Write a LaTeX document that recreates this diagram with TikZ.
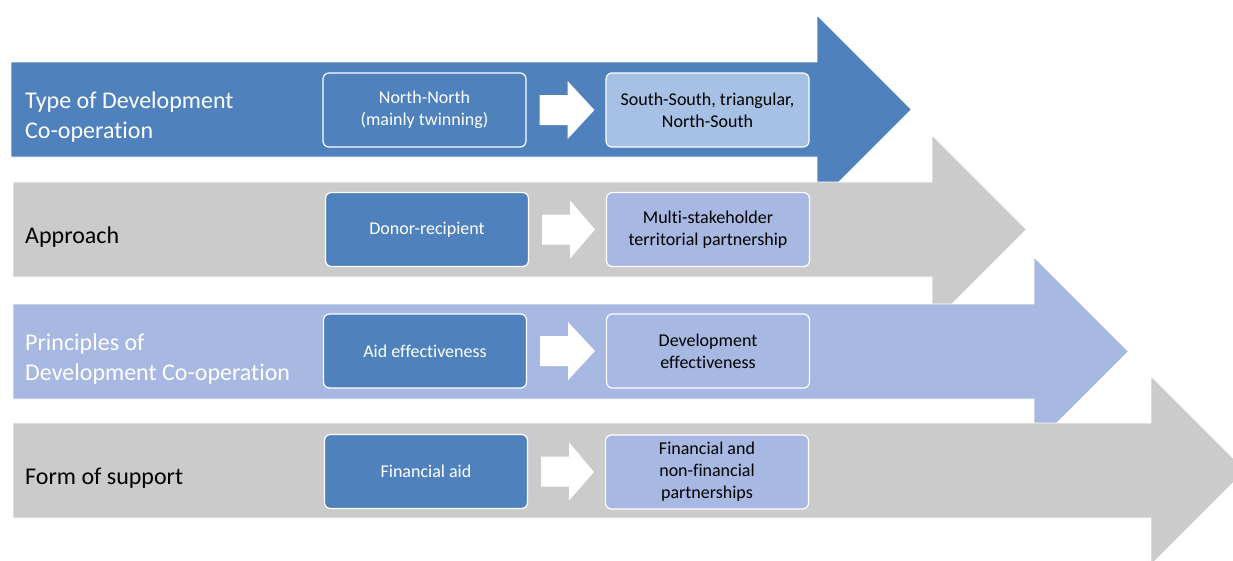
\documentclass[tikz,border=0pt]{standalone}
\usepackage{fontspec}
\setmainfont{Carlito}[Ligatures=NoCommon]
\usetikzlibrary{calc}
\definecolor{accent}{HTML}{4F81BD}
\definecolor{bandgray}{HTML}{CBCBCB}
\definecolor{lavender}{HTML}{A7B8E2}
\definecolor{skyblue}{HTML}{A6C1E3}
\tikzset{
  band/.style={draw=white, line width=0.8pt, line join=miter},
  rowlabel/.style={anchor=west, align=left, inner sep=0pt,
    font=\fontsize{24}{29.3}\selectfont},
  fromstage/.style={rounded corners=6pt, draw=white, line width=1.2pt,
    fill=accent, text=white, minimum width=203pt, minimum height=74pt,
    align=center, inner sep=0pt, font=\fontsize{18}{22}\selectfont},
  tostage/.style={fromstage, text=black},
  shiftarrow/.style={fill=white},
}
% white block arrow from stage #1 to stage #2
\newcommand\shiftarrow[2]{%
  \coordinate (s) at ($(#1.east)+(13,0)$);
  \coordinate (t) at ($(#2.west)+(-11,0)$);
  \fill[shiftarrow] ($(s)+(0,-15)$) -- ($(s)+(28,-15)$) -- ($(s)+(28,-29)$)
    -- (t) -- ($(s)+(28,29)$) -- ($(s)+(28,15)$) -- ($(s)+(0,15)$) -- cycle;}
% broad band arrow: left x, top y, head base x, colour
\newcommand\bandarrow[4]{%
  \path[band, fill=#4] (#1,#2) -- (#3,#2) -- (#3,#2-47) -- (#3+94.5,#2+47.5)
    -- (#3,#2+142) -- (#3,#2+95) -- (#1,#2+95) -- cycle;}
\begin{document}
\begin{tikzpicture}[x=1pt,y=-1pt]
\useasboundingbox (0,0) rectangle (1233,560);
\clip (0,0) rectangle (1233,560);

% the four bands, each drawn over the head of the one above
\bandarrow{11}{62}{817}{accent}
\bandarrow{13}{182}{932}{bandgray}
\bandarrow{13}{304}{1034}{lavender}
\bandarrow{13}{423}{1151}{bandgray}

% row labels
\node[rowlabel, text=white] (type) at (25,117) {Type of Development\\Co-operation};
\node[rowlabel, text=black] (appr) at (25,237) {Approach};
\node[rowlabel, text=white] (prin) at (25,359) {Principles of\\Development Co-operation};
\node[rowlabel, text=black] (form) at (25,478) {Form of support};

% stages
\node[fromstage] (n1) at (424.5,110) {North-North\\(mainly twinning)};
\node[tostage, fill=skyblue] (m1) at (707.5,110) {South-South, triangular,\\North-South};
\node[fromstage] (n2) at (427,229.5) {Donor-recipient};
\node[tostage, fill=lavender] (m2) at (708,229.5) {Multi-stakeholder\\territorial partnership};
\node[fromstage] (n3) at (425,351) {Aid effectiveness};
\node[tostage, fill=lavender] (m3) at (708,351) {Development\\effectiveness};
\node[fromstage] (n4) at (426,471.5) {Financial aid};
\node[tostage, fill=lavender] (m4) at (707,472) {Financial and\\non-financial\\partnerships};

% shifts between stages
\shiftarrow{n1}{m1}
\shiftarrow{n2}{m2}
\shiftarrow{n3}{m3}
\shiftarrow{n4}{m4}
\end{tikzpicture}
\end{document}
